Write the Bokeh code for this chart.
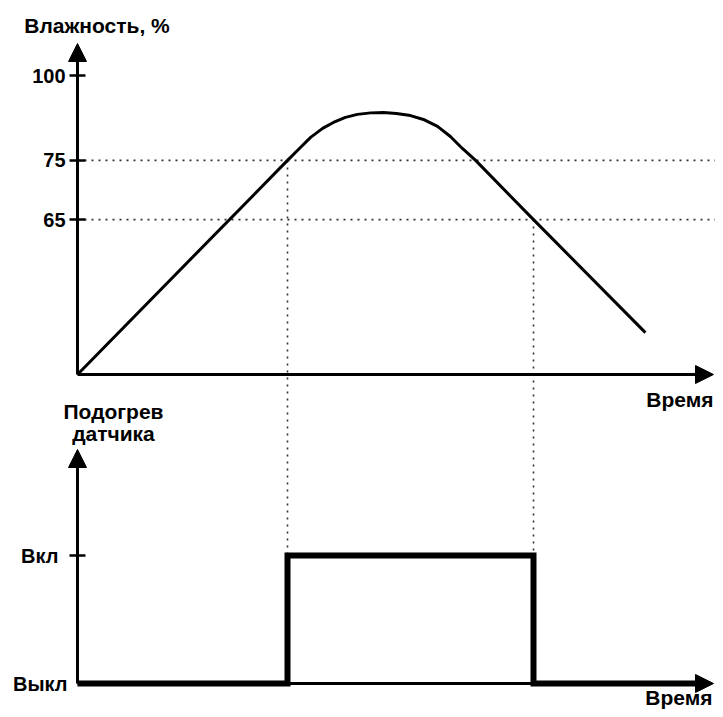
from bokeh.plotting import figure
from bokeh.models import Range1d, Arrow, NormalHead
from bokeh.core.properties import value
from bokeh.embed import file_html
from bokeh.resources import INLINE

# ---------------- data (schematic units) ----------------
# humidity curve: time (arbitrary units) and drawing height of the humidity
curve_t = [0, 70, 74.3, 77.7, 81.7, 85.3, 89.3, 93.3, 97.7, 102, 106.3, 111,
           115.3, 120, 124.3, 128.3, 132.7, 152, 189.3]
curve_h = [0, 71.6, 75.9, 79.3, 82.3, 84.3, 86, 87, 87.5, 87.6, 87.3, 86.6,
           85.3, 83, 79.6, 75.6, 71.6, 51.8, 14]

# humidity levels marked on the axis (schematic position -> label)
level_labels = ["100", "75", "65"]
level_pos = [100.0, 71.6, 51.8]

# sensor heating state (0 = off, 1 = on)
heat_t = [0, 70, 70, 152, 152, 206]
heat_s = [0, 0, 1, 1, 0, 0]
state_labels = ["Выкл", "Вкл"]
state_pos = [0, 1]

title_top = "Влажность, %"
title_bottom = ["Подогрев", "датчика"]
time_label = "Время"

# ---------------- layout ----------------
W, H = 715, 709
X0, KT = 77.0, 3.0          # px of time origin, px per time unit
H0, KH = 374.0, 2.99        # px of humidity origin, px per humidity unit
S0, KS = 683.0, 128.0       # px of "off" level, px per state unit

T_TIP = (713 - X0) / KT
H_TIP = (H0 - 43) / KH
S_TIP = (S0 - 449) / KS

FONT = value("Liberation Sans")

p = figure(width=W, height=H, output_backend="svg", toolbar_location=None,
           x_axis_location=None, y_axis_location=None,
           x_range=Range1d(-X0 / KT, (W - X0) / KT),
           y_range=Range1d(-(H - H0) / KH, H0 / KH),
           min_border=0, outline_line_color=None)
p.extra_y_ranges = {"heat": Range1d(-(H - S0) / KS, S0 / KS)}
p.grid.visible = False

# dotted guide lines
dot = dict(line_color="#333333", line_width=1.6, line_dash="2 5")
thr = level_pos[1:]
p.segment(x0=[0] * len(thr), y0=thr, x1=[(W - X0) / KT] * len(thr), y1=thr, **dot)
v_t = [heat_t[1], heat_t[3]]
v_h = [level_pos[1], level_pos[2]]
on_in_h = (H0 - (S0 - KS * state_pos[1])) / KH
p.segment(x0=v_t, y0=v_h, x1=v_t, y1=[on_in_h] * 2, **dot)

# humidity curve
p.line(curve_t, curve_h, line_color="black", line_width=3, line_join="round")

# heating line
p.line(heat_t, heat_s, y_range_name="heat", line_color="black", line_width=6,
       line_join="miter")

# axes with arrows
def axis_arrow(x1, y1, rng=None):
    kw = dict(x_start=0, y_start=0, x_end=x1, y_end=y1, line_width=3,
              line_color="black",
              end=NormalHead(size=18, fill_color="black", line_color="black",
                             line_width=1))
    if rng:
        kw["y_range_name"] = rng
    p.add_layout(Arrow(**kw))

axis_arrow(0, H_TIP)
axis_arrow(T_TIP, 0)
axis_arrow(0, S_TIP, "heat")
axis_arrow(T_TIP, 0, "heat")

# ticks
tk = 8 / KT
p.segment(x0=[-tk] * 3, y0=level_pos, x1=[tk] * 3, y1=level_pos,
          line_color="black", line_width=2.5)
p.segment(x0=[-tk], y0=[state_pos[1]], x1=[tk], y1=[state_pos[1]],
          y_range_name="heat", line_color="black", line_width=2.5)

tick_style = dict(text_font=FONT, text_font_style="bold", text_font_size="20px",
                  text_color="black", text_baseline="middle", text_align="right")
p.text(x=[0] * 3, y=level_pos, text=level_labels, x_offset=-12, **tick_style)
p.text(x=[0], y=[state_pos[1]], text=[state_labels[1]], x_offset=-19,
       y_range_name="heat", **tick_style)
p.text(x=[0], y=[state_pos[0]], text=[state_labels[0]], x_offset=-10,
       y_range_name="heat", **tick_style)

title_style = dict(text_font=FONT, text_font_style="bold", text_font_size="21px",
                   text_color="black", text_baseline="middle")
p.text(x=[0], y=[H_TIP], text=[title_top], x_offset=19.5, y_offset=-18.5,
       text_align="center", **title_style)
p.text(x=[0], y=[S_TIP], text=[title_bottom[0]], x_offset=36, y_offset=-38.5,
       text_align="center", y_range_name="heat", **title_style)
p.text(x=[0], y=[S_TIP], text=[title_bottom[1]], x_offset=36, y_offset=-16.5,
       text_align="center", y_range_name="heat", **title_style)
p.text(x=[T_TIP], y=[0], text=[time_label], x_offset=0, y_offset=25,
       text_align="right", **title_style)
p.text(x=[T_TIP], y=[0], text=[time_label], x_offset=-1, y_offset=14,
       text_align="right", y_range_name="heat", **title_style)

open("out.html", "w").write(file_html(p, INLINE))
